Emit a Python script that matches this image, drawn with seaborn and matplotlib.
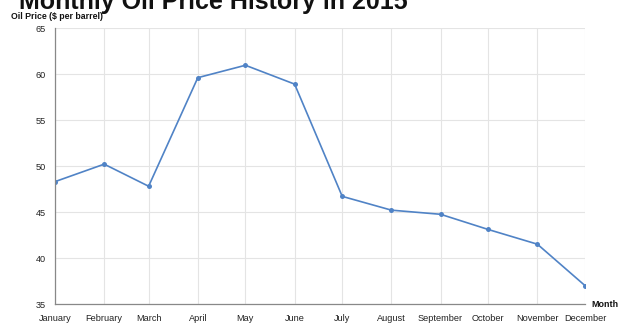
import matplotlib
matplotlib.use("Agg")
import matplotlib.pyplot as plt
import pandas as pd
import seaborn as sns

# Monthly average crude oil price, 2015
months = ["January", "February", "March", "April", "May", "June",
          "July", "August", "September", "October", "November", "December"]
prices = [48.3, 50.2, 47.8, 59.6, 60.95, 58.9, 46.7, 45.2, 44.75, 43.1, 41.5, 37.0]
y_ticks = [35, 40, 45, 50, 55, 60, 65]

dates = pd.date_range("2015-01-01", periods=len(months), freq="MS")
df = pd.DataFrame({"date": dates, "month": months, "price": prices})

sns.set_theme(style="whitegrid")
plt.rcParams["font.family"] = ["Liberation Sans", "DejaVu Sans"]

W, H = 619, 325
fig = plt.figure(figsize=(W / 100, H / 100), dpi=100)
left, right, top, bottom = 55, 585, 28, 304
ax = fig.add_axes([left / W, 1 - bottom / H, (right - left) / W, (bottom - top) / H])

line_color = "#5083c6"
sns.lineplot(data=df, x="date", y="price", ax=ax, color=line_color,
             linewidth=1.2, marker="o", markersize=3.6, markeredgewidth=0,
             markerfacecolor=line_color)

ax.set_xlim(dates[0], dates[-1])
ax.set_ylim(y_ticks[0], y_ticks[-1])
ax.set_xticks(dates)
ax.set_xticklabels(months)
ax.set_yticks(y_ticks)
ax.set_xlabel("")
ax.set_ylabel("")

ax.grid(True, color="#e4e4e4", linewidth=0.8)
for side in ["top", "right"]:
    ax.spines[side].set_visible(False)
for side in ["left", "bottom"]:
    ax.spines[side].set_visible(True)
    ax.spines[side].set_color("#888888")
    ax.spines[side].set_linewidth(0.9)

ax.tick_params(axis="both", which="major", length=4, width=0.8, color="#888888",
               labelsize=6.6, labelcolor="#222222", pad=2.5)
ax.tick_params(axis="x", pad=3)

# Axis titles placed at the ends of the axes
fig.text(11 / W, 1 - 19 / H, "Oil Price ($ per barrel)", fontsize=6.3,
         fontweight="bold", color="#111111", ha="left", va="baseline")
fig.text(591 / W, 1 - 307 / H, "Month", fontsize=6.4,
         fontweight="bold", color="#111111", ha="left", va="baseline")

# Chart title
fig.text(19 / W, 1 - 8.5 / H, "Monthly Oil Price History in 2015", fontsize=18,
         fontweight="bold", color="#111111", ha="left", va="baseline")

fig.savefig("out.png", dpi=100, facecolor="white")
